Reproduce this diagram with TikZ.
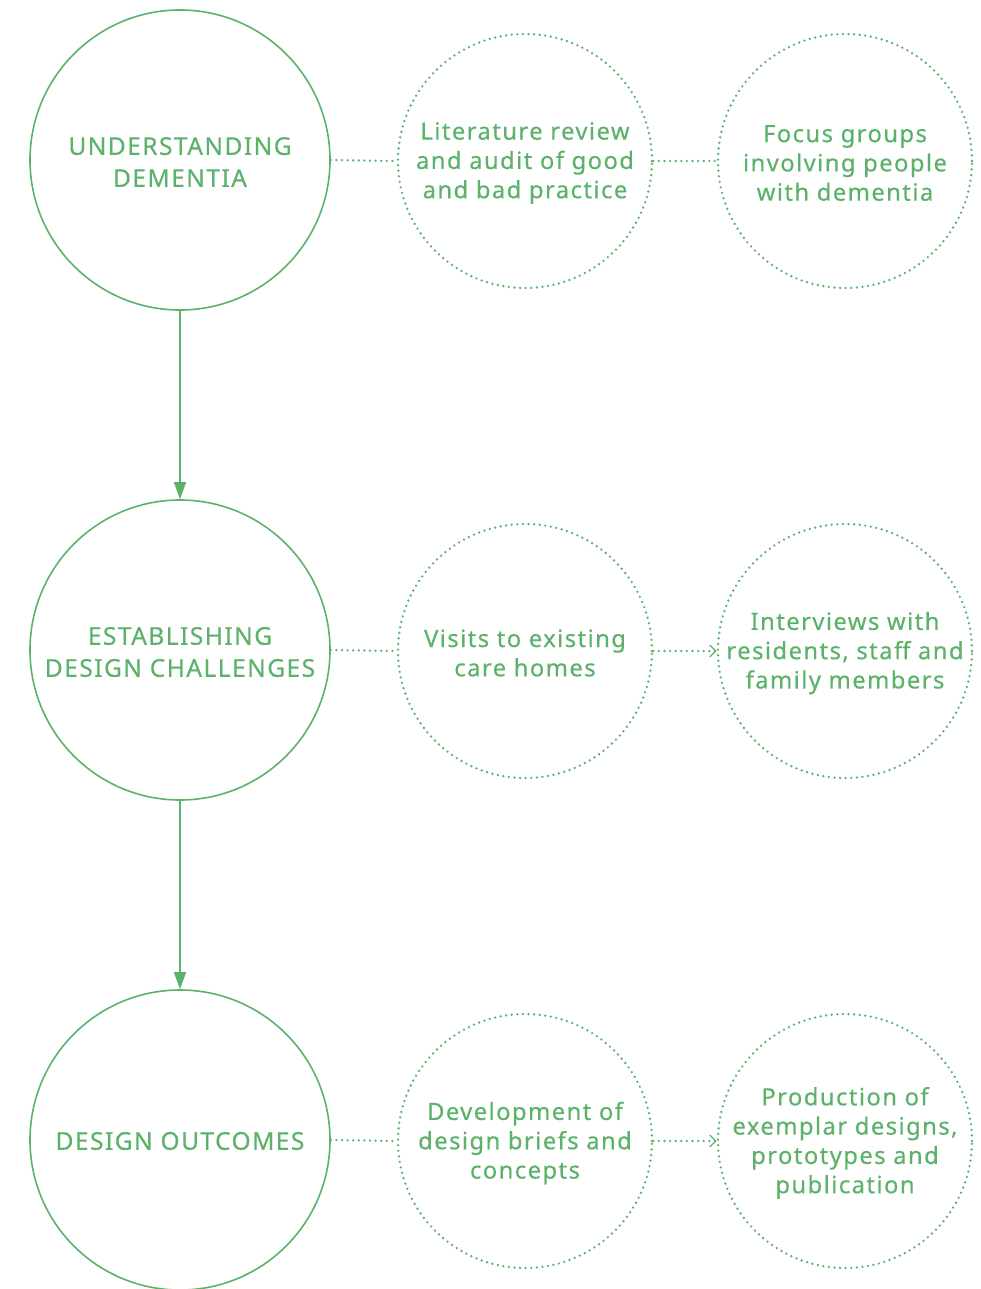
\documentclass[tikz,border=0pt]{standalone}
\usepackage{fontspec}
\setmainfont{Noto Sans}[LetterSpace=6,FakeBold=0.4]
\usetikzlibrary{arrows.meta}
\definecolor{dgreen}{RGB}{92,178,106}
\tikzset{
  big/.style={circle, draw=dgreen, line width=1.6bp, minimum size=300bp, inner sep=0pt, text=dgreen, align=center, font=\fontsize{24.5bp}{32bp}\selectfont},
  small/.style={circle, draw=dgreen, line width=2.6bp, dash pattern=on 0pt off 5.6bp, line cap=round, minimum size=254bp, inner sep=0pt, text=dgreen, align=center, font=\fontsize{23.8bp}{29.3bp}\selectfont},
  dotline/.style={draw=dgreen, line width=2.6bp, dash pattern=on 0pt off 5.6bp, line cap=round},
  dotarrow/.style={dotline, -{Straight Barb[length=6bp,width=12bp,line width=1.3bp]}},
  solidarrow/.style={draw=dgreen, line width=1.6bp, -{Triangle[length=17bp,width=12bp]}}
}
\begin{document}
\begin{tikzpicture}[x=1bp,y=-1bp]
\clip (0,0) rectangle (981,1289);
\useasboundingbox (0,0) rectangle (981,1289);
\node[big] (u) at (180,160) {};
\node[big] (e) at (180,650) {};
\node[big] (d) at (180,1140) {};
\node[small] (l) at (525,161) {};
\node[small] (f) at (845,161) {};
\node[small] (v) at (525,651) {};
\node[small] (i) at (845,651) {};
\node[small] (dv) at (525,1141) {};
\node[small] (p) at (845,1141) {};
\tikzset{lbl/.style={text=dgreen, align=center, inner sep=0pt}}
\node[lbl, font=\fontsize{24.5bp}{32bp}\selectfont] (ut) at ([yshift=-2bp]u.center) {UNDERSTANDING\\DEMENTIA};
\node[lbl, font=\fontsize{24.5bp}{32bp}\selectfont] (et) at ([yshift=-2bp]e.center) {ESTABLISHING\\DESIGN CHALLENGES};
\node[lbl, font=\fontsize{24.5bp}{32bp}\selectfont] (dt) at ([yshift=-1bp]d.center) {DESIGN OUTCOMES};
\node[lbl, font=\fontsize{23.8bp}{29.3bp}\selectfont] (lt) at ([yshift=-2bp]l.center) {Literature review\\and audit of good\\and bad practice};
\node[lbl, font=\fontsize{23.8bp}{29.3bp}\selectfont] (ft) at ([yshift=-2bp]f.center) {Focus groups\\involving people\\with dementia};
\node[lbl, font=\fontsize{23.8bp}{29.3bp}\selectfont] (vt) at ([yshift=-2bp]v.center) {Visits to existing\\care homes};
\node[lbl, font=\fontsize{23.8bp}{29.3bp}\selectfont] (it) at ([yshift=-2bp]i.center) {Interviews with\\residents, staff and\\family members};
\node[lbl, font=\fontsize{23.8bp}{29.3bp}\selectfont] (dvt) at ([yshift=-2bp]dv.center) {Development of\\design briefs and\\concepts};
\node[lbl, font=\fontsize{23.8bp}{29.3bp}\selectfont] (pt) at ([yshift=-2bp]p.center) {Production of\\exemplar designs,\\prototypes and\\publication};
\draw[solidarrow] (u.south) -- (e.north);
\draw[solidarrow] (e.south) -- (d.north);
\draw[dotline] (u.east) -- (l.west);
\draw[dotline] (l.east) -- (f.west);
\draw[dotline] (e.east) -- (v.west);
\draw[dotarrow] (v.east) -- (i.west);
\draw[dotline] (d.east) -- (dv.west);
\draw[dotarrow] (dv.east) -- (p.west);
\end{tikzpicture}
\end{document}
